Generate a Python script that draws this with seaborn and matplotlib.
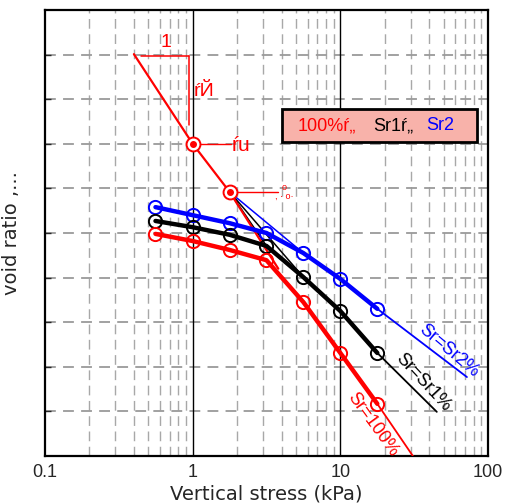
import matplotlib
matplotlib.use("Agg")
import matplotlib.pyplot as plt
import matplotlib.ticker as mticker
from matplotlib.patches import Rectangle
import seaborn as sns
import pandas as pd

# ---- data ----
stress = [0.56, 1.0, 1.78, 3.16, 5.62, 10.0, 17.8]
e_sr2 = [5.58, 5.40, 5.22, 5.00, 4.55, 3.97, 3.30]     # blue
e_sr1 = [5.27, 5.13, 4.96, 4.71, 4.01, 3.25, 2.31]     # black
e_sr100 = [4.98, 4.82, 4.62, 4.39, 3.45, 2.31, 1.17]   # red

ext_x = {"sr2": 72.0, "sr1": 45.0, "sr100": 31.0}
ext_y = {"sr2": 1.77, "sr1": 0.99, "sr100": 0.0}

virgin_x = [0.40, 1.0, 1.78, 3.8]
virgin_y = [9.01, 7.0, 5.92, 4.2]
yield_x = [1.0, 1.78]
yield_y = [7.0, 5.92]

x_ticks = [0.1, 1, 10, 100]
x_ticklabels = ["0.1", "1", "10", "100"]
legend_texts = ["100%ŕ„", "Sr1ŕ„", "Sr2"]
curve_labels = ["Sr=Sr2%", "Sr=Sr1%", "Sr=100%"]

sns.set_style("ticks")
plt.rcParams["font.family"] = ["Liberation Sans", "DejaVu Sans"]

fig = plt.figure(figsize=(5.06, 5.04), dpi=100)
ax = fig.add_axes([45 / 506, 48 / 504, 443 / 506, 446 / 504])
ax.set_xscale("log")
ax.set_xlim(0.1, 100)
ax.set_ylim(0, 10)

# grid
ax.set_yticks(range(1, 10))
ax.set_yticklabels([])
ax.yaxis.grid(True, color="#9a9a9a", lw=1.3, linestyle=(0, (6, 4)))
ax.xaxis.set_major_locator(mticker.FixedLocator(x_ticks))
ax.xaxis.set_major_formatter(mticker.FixedFormatter(x_ticklabels))
ax.xaxis.set_minor_locator(mticker.LogLocator(base=10, subs=range(2, 10)))
ax.xaxis.set_minor_formatter(mticker.NullFormatter())
ax.xaxis.grid(True, which="minor", color="#a8a8a8", lw=1.0, linestyle=(0, (7, 4)))
ax.xaxis.grid(False, which="major")
for xv in [1, 10]:
    ax.axvline(xv, color="black", lw=1.0, zorder=1)
ax.tick_params(axis="y", direction="in", length=4, width=1, left=True)
ax.tick_params(axis="x", which="both", length=0, labelsize=13, pad=6)
for s in ax.spines.values():
    s.set_linewidth(1.6)
    s.set_color("black")

# thin lines from the yield point
ax.plot([yield_x[1], stress[3]], [yield_y[1], e_sr1[3]], color="black", lw=1.1, zorder=3)
ax.plot([yield_x[1], stress[4]], [yield_y[1], e_sr1[4]], color="black", lw=1.1, zorder=3)
ax.plot([yield_x[1], stress[4]], [yield_y[1], e_sr2[4]], color="blue", lw=1.1, zorder=3)

# virgin line
sns.lineplot(x=virgin_x, y=virgin_y, sort=False, color="red", lw=1.6, ax=ax, zorder=4)

# extensions
for key, ys, col in [("sr2", e_sr2, "blue"), ("sr1", e_sr1, "black"), ("sr100", e_sr100, "red")]:
    ax.plot([stress[-1], ext_x[key]], [ys[-1], ext_y[key]], color=col, lw=1.3, zorder=4)

# main curves
df = pd.DataFrame({"stress": stress * 3,
                   "e": e_sr2 + e_sr1 + e_sr100,
                   "series": ["sr2"] * 7 + ["sr1"] * 7 + ["sr100"] * 7})
pal = {"sr2": "blue", "sr1": "black", "sr100": "red"}
for key in ["sr2", "sr1", "sr100"]:
    sub = df[df["series"] == key]
    sns.lineplot(data=sub, x="stress", y="e", sort=False, color=pal[key], lw=3.2,
                 marker="o", markersize=9.5, markerfacecolor="none",
                 markeredgecolor=pal[key], markeredgewidth=1.4, ax=ax, zorder=5)

# yield points (circle with dot)
ax.plot(yield_x, yield_y, linestyle="none", marker="o", markersize=10, markerfacecolor="white",
        markeredgecolor="red", markeredgewidth=1.4, zorder=6)
ax.plot(yield_x, yield_y, linestyle="none", marker="o", markersize=4, color="red", zorder=7)

# slope triangle
ax.plot([0.45, 0.94], [8.97, 8.97], color="red", lw=1.1, zorder=4)
ax.plot([0.94, 0.94], [8.97, 7.42], color="red", lw=1.1, zorder=4)
ax.text(0.66, 9.28, "1", color="red", fontsize=14, ha="center", va="center")
ax.text(1.01, 8.18, "ŕЙ", color="red", fontsize=14, ha="left", va="center")

# labels at yield points
ax.plot([1.0, 1.81], [7.0, 7.0], color="red", lw=1.0, zorder=4)
ax.text(1.85, 6.97, "ŕu", color="red", fontsize=15, ha="left", va="center")
ax.plot([1.78, 3.78], [5.92, 5.92], color="red", lw=1.0, zorder=4)
ax.text(4.15, 5.92, "o\n, · o·", color="red", fontsize=6.5, ha="center", va="center",
        linespacing=0.9)

# legend-like box
tr = ax.transAxes
ax.add_patch(Rectangle(((282 - 45) / 443, (456 - 142) / 446), 195 / 443, 33 / 446,
                       transform=tr, facecolor="#f8b2aa", edgecolor="black", lw=2, zorder=8))
for txt, px, col in zip(legend_texts, [327, 393, 440], ["red", "black", "blue"]):
    ax.text((px - 45) / 443, (456 - 126) / 446, txt, color=col, fontsize=13,
            ha="center", va="center", transform=tr, zorder=9)

# curve labels
ax.text(54.0, 2.35, curve_labels[0], color="blue", fontsize=13, rotation=-40,
        ha="center", va="center", rotation_mode="anchor")
ax.text(36.5, 1.66, curve_labels[1], color="black", fontsize=13, rotation=-47,
        ha="center", va="center", rotation_mode="anchor")
ax.text(16.5, 0.70, curve_labels[2], color="red", fontsize=13, rotation=-54,
        ha="center", va="center", rotation_mode="anchor")

ax.set_xlabel("Vertical stress (kPa)", fontsize=14, family=["DejaVu Sans"], labelpad=2)
ax.set_ylabel("void ratio ,...", fontsize=14, family=["DejaVu Sans"], labelpad=14)

fig.savefig("out.png", dpi=100)
